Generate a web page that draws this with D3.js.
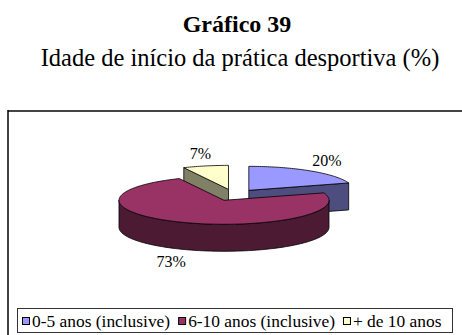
<!DOCTYPE html>
<html>
<head>
<meta charset="utf-8">
<script src="https://cdn.jsdelivr.net/npm/d3@7"></script>
<style>
  html, body { margin: 0; padding: 0; background: #ffffff; }
  svg { display: block; }
</style>
</head>
<body>
<div id="chart"></div>
<script>
// Age at which sports practice started (%)
const categories = ["0-5 anos (inclusive)", "6-10 anos (inclusive)", "+ de 10 anos"];
const values = [20, 73, 7];
const valueLabels = ["20%", "73%", "7%"];
const topColors = ["#9999ff", "#993366", "#ffffcc"];
const sideColors = ["#4d4d80", "#4d1a33", "#808066"];

const W = 462, H = 335;
const FONT = "'Liberation Serif', 'Times New Roman', Times, 'DejaVu Serif', serif";
const svg = d3.select("#chart").append("svg").attr("width", W).attr("height", H)
  .attr("font-family", FONT);

// Titles
svg.append("text").attr("x", 237).attr("y", 32).attr("text-anchor", "middle")
  .style("font-family", FONT)
  .attr("font-size", 24).attr("font-weight", "bold").text("Gráfico 39");
svg.append("text").attr("x", 240).attr("y", 66).attr("text-anchor", "middle")
  .style("font-family", FONT)
  .attr("font-size", 24.5).text("Idade de início da prática desportiva (%)");

// Chart frame (runs past the right and bottom edges)
svg.append("line").attr("x1", 8).attr("x2", W + 2).attr("y1", 111).attr("y2", 111)
  .attr("stroke", "#444").attr("stroke-width", 2);
svg.append("line").attr("x1", 8).attr("x2", 8).attr("y1", 110).attr("y2", H + 2)
  .attr("stroke", "#000").attr("stroke-width", 1.5);

// 3-D pie geometry
const cx = 234, cy = 195;       // centre of the un-exploded pie top
const rx = 105, ry = 24;        // top ellipse radii
const depth = 27;               // thickness of the pie
const explode = 0.24;           // radial offset of each slice (fraction of radius)

const pie = d3.pie().sort(null).value(d => d).startAngle(0).endAngle(2 * Math.PI);
const arcs = pie(values).map((a, i) => {
  const mid = (a.startAngle + a.endAngle) / 2;
  return Object.assign(a, {
    i, mid,
    ox: cx + explode * rx * Math.sin(mid),
    oy: cy - explode * ry * Math.cos(mid)
  });
});

const pt = (a, ang, r, dz) => [a.ox + r * rx * Math.sin(ang), a.oy - r * ry * Math.cos(ang) + dz];

function rimPoints(a, a0, a1, dz) {
  const n = Math.max(2, Math.ceil(Math.abs(a1 - a0) / 0.02));
  return d3.range(n + 1).map(k => pt(a, a0 + (a1 - a0) * k / n, 1, dz));
}

const line = d3.line();
const gPie = svg.append("g");

// back slices first
const order = arcs.slice().sort((p, q) => p.oy - q.oy);
order.forEach(a => {
  const g = gPie.append("g");
  // outer wall on the front half (angles between 90° and 270°)
  const w0 = Math.max(a.startAngle, Math.PI / 2), w1 = Math.min(a.endAngle, 3 * Math.PI / 2);
  if (w1 > w0) {
    const pts = rimPoints(a, w0, w1, 0).concat(rimPoints(a, w1, w0, depth));
    g.append("path").attr("d", line(pts) + "Z")
      .attr("fill", sideColors[a.i]).attr("stroke", "#000").attr("stroke-width", 0.8);
  }
  // radial cut faces that face the viewer
  [[a.startAngle, -1], [a.endAngle, 1]].forEach(([ang, s]) => {
    const facing = -Math.cos(ang + s * Math.PI / 2);
    if (facing > 0.01) {
      const pts = [pt(a, ang, 0, 0), pt(a, ang, 1, 0), pt(a, ang, 1, depth), pt(a, ang, 0, depth)];
      g.append("path").attr("d", line(pts) + "Z")
        .attr("fill", sideColors[a.i]).attr("stroke", "#000").attr("stroke-width", 0.8);
    }
  });
  // top face
  const top = [pt(a, 0, 0, 0)].concat(rimPoints(a, a.startAngle, a.endAngle, 0));
  g.append("path").attr("d", line(top) + "Z")
    .attr("fill", topColors[a.i]).attr("stroke", "#000").attr("stroke-width", 0.8);
});

// value labels outside each slice
arcs.forEach(a => {
  const front = Math.cos(a.mid) < 0;
  const [ax, ay] = pt(a, a.mid, 1.15, front ? depth : 0);
  const w = valueLabels[a.i].length * 8, h = 16;
  const tx = ax + (w * 0.5) * Math.sin(a.mid);
  const ty = ay - (h * 0.6) * Math.cos(a.mid);
  svg.append("text").attr("x", tx).attr("y", ty).attr("dy", "0.35em")
    .style("font-family", FONT)
    .attr("text-anchor", "middle").attr("font-size", 16).text(valueLabels[a.i]);
});

// Legend: entries laid out left to right from their measured text widths
const lg = svg.append("g");
lg.append("rect").attr("x", 17.5).attr("y", 308.5).attr("width", 435).attr("height", 24)
  .attr("fill", "#fff").attr("stroke", "#333").attr("stroke-width", 1);
let lx = 22;
categories.forEach((c, i) => {
  lg.append("rect").attr("x", lx + 0.5).attr("y", 317.5).attr("width", 7).attr("height", 7)
    .attr("fill", topColors[i]).attr("stroke", "#000").attr("stroke-width", 1);
  const t = lg.append("text").attr("x", lx + 10).attr("y", 327).style("font-family", FONT)
    .attr("font-size", 17.4).text(c);
  lx += 10 + t.node().getComputedTextLength() + 8;
});
</script>
</body>
</html>
